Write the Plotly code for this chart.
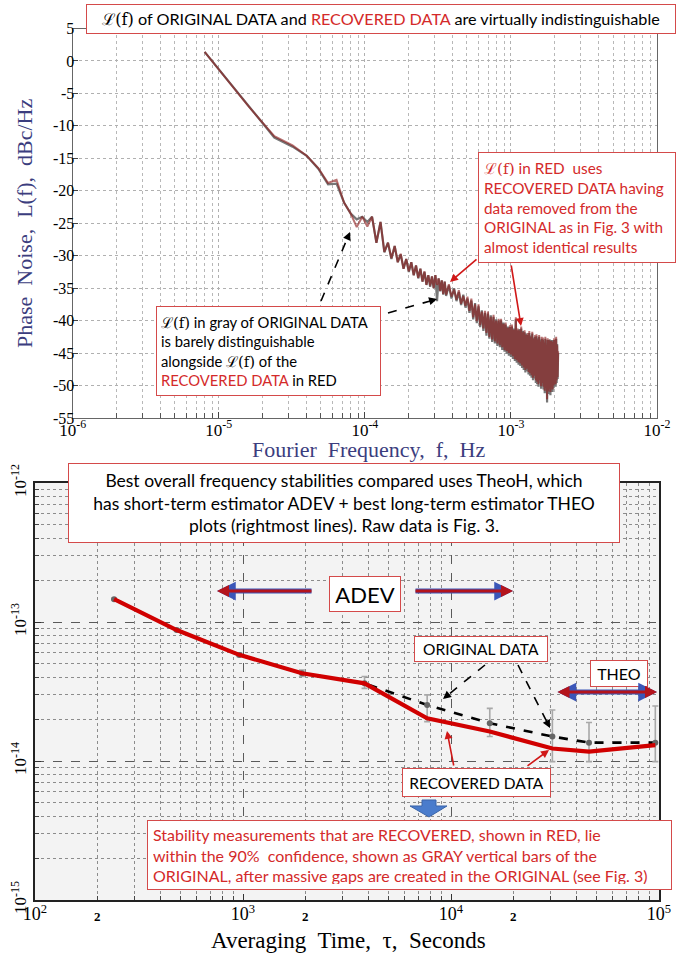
import math
import plotly.graph_objects as go

W, H = 684, 953

# ---------------- Top panel: phase noise L(f) ----------------
DF = 8e-6  # Hz, spectral bin spacing
bins_low = list(range(1, 46))
orig_low = [1.4, -7.0, -11.8, -13.2, -14.6, -16.6, -19.0, -18.9, -21.8, -23.5,
            -24.4, -24.0, -24.8, -24.0, -28.0, -24.8, -29.5, -28.0, -30.5, -28.5,
            -31.0, -29.8, -32.0, -30.5, -32.5, -31.0, -33.0, -31.5, -33.5, -32.0,
            -34.0, -32.5, -34.5, -33.0, -34.8, -33.2, -35.0, -33.0, -37.0, -33.5,
            -35.5, -33.8, -36.0, -34.0, -36.2]
rec_low = [1.4, -7.0, -11.6, -13.0, -14.6, -16.5, -18.8, -18.3, -21.8, -23.5,
           -25.6, -24.0, -25.5, -24.0, -28.0, -24.8, -29.4, -28.0, -30.4, -28.5,
           -31.0, -29.7, -32.0, -30.5, -32.4, -31.0, -33.0, -31.5, -33.4, -32.0,
           -34.0, -32.4, -34.5, -33.0, -34.6, -33.2, -35.0, -33.0, -34.5, -33.5,
           -35.4, -33.8, -35.9, -34.0, -36.0]
bins_dense = list(range(47, 264, 2))
orig_dense = [-34.6, -36.6, -35.0, -37.0, -35.6, -37.6, -36.0, -38.0, -36.6, -38.8,
              -36.9, -39.8, -37.3, -40.4, -37.8, -41.0, -38.4, -41.6, -38.8, -42.3,
              -38.9, -42.8, -39.2, -43.3, -39.4, -43.5, -39.8, -43.9, -40.0, -44.1,
              -40.0, -44.5, -40.3, -44.8, -40.6, -45.1, -40.9, -45.4, -41.0, -45.6,
              -40.9, -45.9, -41.2, -46.2, -39.8, -46.5, -41.5, -46.8, -41.3, -47.0,
              -41.2, -47.3, -41.6, -47.6, -41.8, -48.0, -42.0, -47.8, -42.2, -48.3,
              -41.9, -48.5, -42.3, -48.8, -42.0, -49.2, -42.6, -48.9, -42.5, -49.6,
              -42.4, -49.8, -42.7, -50.2, -42.5, -49.6, -43.0, -50.5, -42.8, -50.0,
              -42.9, -50.6, -43.2, -51.2, -42.8, -50.8, -43.5, -52.6, -43.0, -51.3,
              -43.2, -50.9, -42.9, -51.5, -43.4, -50.6, -43.0, -51.0, -43.6, -50.4,
              -43.0, -49.8, -43.4, -50.2, -42.8, -49.6, -43.6, -49.0, -45.0]
rec_dense = [-34.4, -36.3, -35.2, -36.8, -35.3, -37.4, -36.2, -37.7, -36.3, -38.5,
             -36.6, -39.5, -37.5, -40.1, -37.5, -40.7, -38.6, -41.2, -38.5, -41.9,
             -38.6, -42.5, -39.4, -42.9, -39.1, -43.2, -40.0, -43.5, -39.7, -43.8,
             -39.7, -44.1, -40.5, -44.5, -40.3, -44.7, -41.1, -45.0, -40.7, -45.2,
             -40.6, -45.5, -41.4, -45.9, -39.5, -46.1, -41.2, -46.4, -41.5, -46.6,
             -40.9, -46.9, -41.8, -47.2, -41.5, -47.6, -42.2, -47.4, -41.9, -47.9,
             -41.6, -48.1, -42.5, -48.4, -41.7, -48.8, -42.8, -48.5, -42.2, -49.2,
             -42.1, -49.4, -42.9, -49.8, -42.2, -49.2, -43.2, -50.1, -42.5, -49.6,
             -42.6, -50.2, -43.4, -50.8, -42.5, -50.4, -43.7, -52.1, -42.7, -50.9,
             -42.9, -50.5, -43.1, -51.0, -43.1, -50.2, -43.2, -50.6, -43.3, -50.0,
             -42.7, -49.4, -43.6, -49.8, -42.5, -49.2, -43.8, -48.7, -44.7]

top_x_ticks = [1e-6, 1e-5, 1e-4, 1e-3, 1e-2]
top_x_ticktext = ["10<sup>-6</sup>", "10<sup>-5</sup>", "10<sup>-4</sup>",
                  "10<sup>-3</sup>", "10<sup>-2</sup>"]
top_y_ticks = [5, 0, -5, -10, -15, -20, -25, -30, -35, -40, -45, -50, -55]
top_y_ticktext = ["5", "0", "-5", "-10", "-15", "-20", "-25", "-30", "-35",
                  "-40", "-45", "-50", "-55"]

# ---------------- Bottom panel: TheoH stability ----------------
tau = [240, 480, 960, 1920, 3840, 7680, 15360, 30720, 46080, 96000]
sigma_orig = [1.46e-13, 8.75e-14, 5.80e-14, 4.28e-14, 3.62e-14,
              2.53e-14, 1.87e-14, 1.50e-14, 1.355e-14, 1.355e-14]
sigma_rec = [1.46e-13, 8.75e-14, 5.80e-14, 4.28e-14, 3.62e-14,
             2.03e-14, 1.63e-14, 1.23e-14, 1.17e-14, 1.30e-14]
ci_upper = [1.48e-13, 8.9e-14, 5.95e-14, 4.52e-14, 4.05e-14,
            2.99e-14, 2.39e-14, 2.33e-14, 1.89e-14, 2.49e-14]
ci_lower = [1.44e-13, 8.6e-14, 5.65e-14, 4.05e-14, 3.33e-14,
            1.92e-14, 1.50e-14, 0.99e-14, 0.99e-14, 0.99e-14]

bot_x_ticks = [1e2, 1e3, 1e4, 1e5]
bot_x_ticktext = ["10<sup>2</sup>", "10<sup>3</sup>", "10<sup>4</sup>", "10<sup>5</sup>"]
bot_x_half = [2e2, 2e3, 2e4]
bot_y_ticks = [1e-15, 1e-14, 1e-13, 1e-12]
bot_y_ticktext = ["10<sup>-15</sup>", "10<sup>-14</sup>", "10<sup>-13</sup>", "10<sup>-12</sup>"]


def px(x):
    return x / W


def py(y):
    return 1 - y / H


def minor_vals(decades):
    return [m * d for d in decades for m in range(2, 10)]


freq_low = [DF * k for k in bins_low]
freq_dense = [DF * k for k in bins_dense]
freq = freq_low + freq_dense
orig_L = orig_low + orig_dense
rec_L = rec_low + rec_dense

fig = go.Figure()
fig.add_trace(go.Scatter(x=freq, y=orig_L, mode="lines", xaxis="x", yaxis="y",
                         line=dict(color="#777777", width=2.2), name="original",
                         showlegend=False))
fig.add_trace(go.Scatter(x=freq, y=rec_L, mode="lines", xaxis="x", yaxis="y",
                         line=dict(color="rgba(140,28,28,0.62)", width=2.0),
                         name="recovered", showlegend=False))

err_plus = [u - s for u, s in zip(ci_upper, sigma_orig)]
err_minus = [s - l for s, l in zip(sigma_orig, ci_lower)]
fig.add_trace(go.Scatter(x=tau, y=sigma_orig, mode="lines+markers", xaxis="x2", yaxis="y2",
                         line=dict(color="black", width=2.6, dash="dash"),
                         marker=dict(color="#666666", size=6),
                         error_y=dict(type="data", array=err_plus, arrayminus=err_minus,
                                      color="#a8a8a8", thickness=1.6, width=3),
                         showlegend=False))
fig.add_trace(go.Scatter(x=tau, y=sigma_rec, mode="lines", xaxis="x2", yaxis="y2",
                         line=dict(color="#d00000", width=4.2), showlegend=False))

serif = "Liberation Serif"
sans = "Lato"
RED = "#d42a2a"
BORDER = "#d44a4a"

annotations = []
shapes = []


def box(text, x0, y0, x1, y1, size, color="black", align="center", pad=3):
    annotations.append(dict(
        xref="paper", yref="paper", x=px((x0 + x1) / 2), y=py((y0 + y1) / 2),
        xanchor="center", yanchor="middle", text=text, showarrow=False,
        width=x1 - x0 - 2 * pad - 2, height=y1 - y0 - 2 * pad - 2,
        align=align, valign="middle", bgcolor="white", bordercolor=BORDER,
        borderwidth=1, borderpad=pad, font=dict(family=sans, size=size, color=color)))


def arrow(xt, yt, xh, yh, color, width=1.5, size=1.0, head=2):
    annotations.append(dict(
        xref="paper", yref="paper", x=px(xh), y=py(yh), ax=xt - xh, ay=yt - yh,
        axref="pixel", ayref="pixel", showarrow=True, text="", arrowhead=head,
        arrowsize=size, arrowwidth=width, arrowcolor=color))


def dashed_arrow(xt, yt, xh, yh, color="black"):
    L = math.hypot(xh - xt, yh - yt)
    ux, uy = (xh - xt) / L, (yh - yt) / L
    shapes.append(dict(type="line", xref="paper", yref="paper",
                       x0=px(xt), y0=py(yt), x1=px(xh - 6 * ux), y1=py(yh - 6 * uy),
                       line=dict(color=color, width=1.6, dash="dash")))
    arrow(xh - 9 * ux, yh - 9 * uy, xh, yh, color, width=1.6, size=1.0)


SL = '<span style="font-family:DejaVu Serif">ℒ(f)</span>'

def red(t):
    return '<span style="color:%s">%s</span>' % (RED, t)


# ---- top panel boxes ----
box(SL + " of ORIGINAL DATA and " + red("RECOVERED DATA") + " are virtually indistinguishable",
    86, 4, 676, 34, 16.2, pad=2)
box(SL + " in RED  uses<br>RECOVERED DATA having<br>data removed from the<br>"
    "ORIGINAL as in Fig. 3 with<br>almost identical results",
    478, 152, 676, 263, 15.3, color=RED, align="left", pad=5)
box(SL + " in gray of ORIGINAL DATA<br>is barely distinguishable<br>alongside " + SL +
    " of the<br>" + red("RECOVERED DATA") + " in RED",
    156, 306, 381, 396, 14.8, align="left", pad=4)
arrow(478, 258, 450, 282, "#d01818", width=1.6)
arrow(511, 264, 521, 326, "#d01818", width=1.6)
dashed_arrow(321, 301, 350, 232)
dashed_arrow(388, 313, 437, 299)

# axis titles (top)
annotations.append(dict(xref="paper", yref="paper", x=px(368), y=py(449), text="Fourier  Frequency,  f,  Hz",
                        showarrow=False, font=dict(family=serif, size=22, color="#3b3d7e"),
                        xanchor="center", yanchor="middle"))
annotations.append(dict(xref="paper", yref="paper", x=px(24), y=py(223), text="Phase  Noise,  L(f),  dBc/Hz",
                        showarrow=False, textangle=-90, font=dict(family=serif, size=22, color="#3b3d7e"),
                        xanchor="center", yanchor="middle"))

# ---- bottom panel boxes ----
box("Best overall frequency stabilities compared uses TheoH, which<br>"
    "has short-term estimator ADEV + best long-term estimator THEO<br>"
    "plots (rightmost lines). Raw data is Fig. 3.", 68, 463, 620, 543, 17.5, pad=3)
box("ADEV", 329, 576, 401, 612, 22, pad=2)
box("ORIGINAL DATA", 414, 636, 548, 662, 15.5, pad=2)
box("THEO", 590, 660, 648, 687, 16, pad=2)
box("RECOVERED DATA", 402, 768, 551, 797, 15.5, pad=2)
box("Stability measurements that are RECOVERED, shown in RED, lie<br>"
    "within the 90%  confidence, shown as GRAY vertical bars of the<br>"
    "ORIGINAL, after massive gaps are created in the ORIGINAL (see Fig. 3)",
    147, 820, 672, 890, 16, color=RED, align="left", pad=5)

dashed_arrow(485, 665, 443, 699)
dashed_arrow(518, 665, 550, 728)
arrow(454, 767, 447, 731, "#d01818", width=1.6)
arrow(526, 767, 549, 750, "#d01818", width=1.6)

# ADEV / THEO range arrows (blue outline under red)
for col, wd in (("#3a56b8", 5.0), ("#b4141c", 3.2)):
    arrow(313, 591, 217, 591, col, width=wd, size=0.75)
    arrow(414, 591, 513, 591, col, width=wd, size=0.75)
for col, wd in (("#3a56b8", 5.0), ("#b4141c", 3.2)):
    annotations.append(dict(xref="paper", yref="paper", x=px(657), y=py(692), ax=556 - 657, ay=0,
                            showarrow=True, text="", arrowhead=2, startarrowhead=2,
                            arrowside="end+start", arrowsize=0.75, startarrowsize=0.75,
                            arrowwidth=wd, arrowcolor=col))

# blue block arrow
pts = [(422, 800), (436, 800), (436, 806), (447, 806), (429, 817), (410, 806), (422, 806)]
path = "M " + " L ".join("%.5f,%.5f" % (px(a), py(b)) for a, b in pts) + " Z"
shapes.append(dict(type="path", xref="paper", yref="paper", path=path,
                   fillcolor="#4a7ccc", line=dict(color="#3a64a8", width=1)))

# bottom "2" tick labels
for v in bot_x_half:
    annotations.append(dict(xref="x2", yref="paper", x=math.log10(v), y=py(916), text="<b>2</b>",
                            showarrow=False, font=dict(family=serif, size=13, color="black"),
                            xanchor="center", yanchor="middle"))
annotations.append(dict(xref="paper", yref="paper", x=px(349), y=py(940),
                        text="Averaging  Time,  τ,  Seconds", showarrow=False,
                        font=dict(family=serif, size=23, color="black"),
                        xanchor="center", yanchor="middle"))

# bottom plot background
shapes.insert(0, dict(type="rect", xref="x2 domain", yref="y2 domain", x0=0, x1=1, y0=0, y1=1,
                      fillcolor="#f3f3f3", line=dict(width=0), layer="below"))

fig.update_layout(
    width=W, height=H, autosize=False, margin=dict(l=0, r=0, t=0, b=0, autoexpand=False),
    paper_bgcolor="white", plot_bgcolor="rgba(0,0,0,0)", showlegend=False,
    xaxis=dict(type="log", range=[-6, -2], domain=[px(72.7), px(657)], anchor="y",
               automargin=False,
               tickvals=top_x_ticks, ticktext=top_x_ticktext, ticklabelstandoff=-4,
               showgrid=True, gridcolor="#b0b0b0", griddash="dot", gridwidth=1,
               ticks="inside", ticklen=6, tickcolor="#444",
               showline=True, linecolor="#666", linewidth=1.3, mirror=True, zeroline=False,
               tickfont=dict(family=serif, size=17, color="black"),
               minor=dict(tickvals=minor_vals([1e-6, 1e-5, 1e-4, 1e-3]), showgrid=True,
                          gridcolor="#b8b8b8", griddash="dot", gridwidth=1,
                          ticks="inside", ticklen=5, tickcolor="#555")),
    yaxis=dict(range=[-55, 5], domain=[py(418), py(28.5)], anchor="x", automargin=False,
               tickvals=top_y_ticks, ticktext=top_y_ticktext, ticklabelstandoff=-6,
               showgrid=True, gridcolor="#b0b0b0", griddash="dot",
               ticks="inside", ticklen=5, tickcolor="#444",
               showline=True, linecolor="#666", linewidth=1.3, mirror=True, zeroline=False,
               tickfont=dict(family=serif, size=16, color="black")),
    xaxis2=dict(type="log", range=[2, 5], domain=[px(35), px(659)], anchor="y2",
                automargin=False,
                tickvals=bot_x_ticks, ticktext=bot_x_ticktext, ticklabelstandoff=-3,
                showgrid=True, gridcolor="#5a5a5a", griddash="dash", gridwidth=1.2,
                ticks="inside", ticklen=6, tickcolor="#333",
                showline=True, linecolor="#222", linewidth=1.6, mirror=True, zeroline=False,
                tickfont=dict(family=serif, size=18, color="black"),
                minor=dict(tickvals=minor_vals([1e2, 1e3, 1e4]), showgrid=True,
                           gridcolor="#8c8c8c", griddash="dot", gridwidth=1,
                           ticks="inside", ticklen=4, tickcolor="#444")),
    yaxis2=dict(type="log", range=[-15, -12], domain=[py(900), py(483)], anchor="x2",
                automargin=False,
                tickvals=bot_y_ticks, ticktext=bot_y_ticktext, tickangle=-90,
                showgrid=True, gridcolor="#5a5a5a", griddash="dash", gridwidth=1.2,
                ticks="inside", ticklen=6, tickcolor="#333",
                showline=True, linecolor="#222", linewidth=1.6, mirror=True, zeroline=False,
                tickfont=dict(family=serif, size=17, color="black")),
    annotations=annotations, shapes=shapes,
)
fig.layout.yaxis2.minor = dict(tickvals=minor_vals([1e-15, 1e-14, 1e-13]), showgrid=True,
                               gridcolor="#8c8c8c", griddash="dot", gridwidth=1,
                               ticks="inside", ticklen=4, tickcolor="#444")

fig.write_html("out.html", config={"displayModeBar": False},
               post_script="document.body.style.margin='0';document.body.style.overflow='hidden';")
